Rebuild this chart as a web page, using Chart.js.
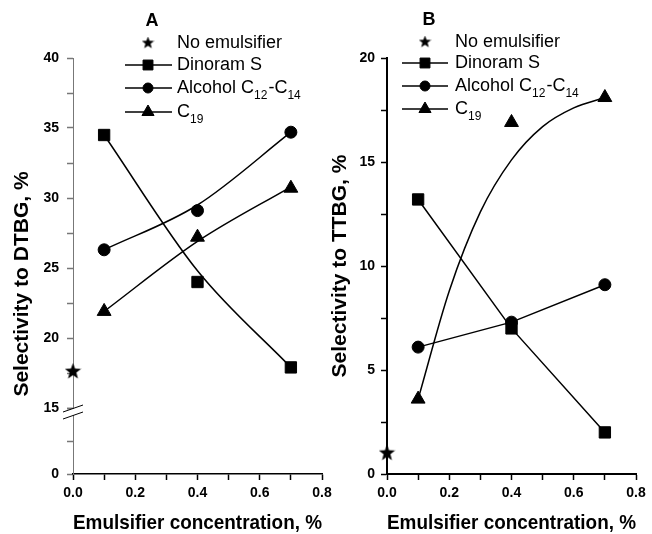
<!DOCTYPE html>
<html>
<head>
<meta charset="utf-8">
<script src="https://cdn.jsdelivr.net/npm/chart.js@4.4.1/dist/chart.umd.min.js"></script>
<style>
  html, body { margin: 0; padding: 0; background: #fff; }
  #wrap { position: relative; width: 652px; height: 534px; overflow: hidden; }
  canvas { position: absolute; top: 0; }
  #chartA { left: 0; }
  #chartB { left: 326px; }
</style>
</head>
<body>
<div id="wrap">
  <canvas id="chartA" width="340" height="534"></canvas>
  <canvas id="chartB" width="326" height="534"></canvas>
</div>
<script>
// emulsifier concentration, %
var concentration = [0.1, 0.4, 0.7];
var fitConcB = [0.1, 0.2, 0.3, 0.4, 0.5, 0.6, 0.7];

// A: selectivity to DTBG, %
var noEmulsifierA = [17.6];
var dinoramA = [34.5, 24.0, 17.9];
var alcoholA = [26.3, 29.1, 34.7];
var c19A = [21.9, 27.2, 30.7];
var dinoramFitA = [34.5, 24.8, 17.9];
var alcoholFitA = [26.3, 29.5, 34.7];
var c19FitA = [21.9, 26.9, 30.8];

// B: selectivity to TTBG, %
var noEmulsifierB = [1.0];
var dinoramB = [13.2, 7.0, 2.0];
var alcoholB = [6.1, 7.3, 9.1];
var c19B = [3.6, 16.9, 18.1];
var c19FitB = [3.6, 8.8, 12.6, 15.1, 16.7, 17.6, 18.1];

var legendLabels = ['No emulsifier', 'Dinoram S', 'Alcohol C_{12}-C_{14}', 'C_{19}'];

var FONT = '"Liberation Sans", Arial, sans-serif';

function starCanvas(size) {
    var c = document.createElement('canvas');
    c.width = size; c.height = size;
    var g = c.getContext('2d');
    var R = size / 2, r = R * 0.42;
    g.beginPath();
    for (var i = 0; i < 10; i++) {
        var a = -Math.PI / 2 + i * Math.PI / 5;
        var rr = i % 2 === 0 ? R : r;
        g.lineTo(R + rr * Math.cos(a), R + rr * Math.sin(a));
    }
    g.closePath();
    g.fillStyle = '#000';
    g.fill();
    return c;
}
var starBig = starCanvas(17);
var starSmall = starCanvas(13);

function pts(xs, ys) {
    return ys.map(function (y, i) { return { x: xs[i], y: y }; });
}

function markers(label, xs, ys, style, r, axis, withLine) {
    return {
        label: label,
        data: pts(xs, ys),
        yAxisID: axis,
        showLine: !!withLine,
        pointStyle: style,
        pointRadius: r,
        pointHoverRadius: r,
        pointBackgroundColor: '#000',
        pointBorderColor: '#000',
        pointBorderWidth: 1,
        borderColor: '#000',
        borderWidth: 1.5,
        tension: 0,
        clip: false
    };
}

function fitLine(xs, ys, axis) {
    return {
        data: pts(xs, ys),
        yAxisID: axis,
        showLine: true,
        pointRadius: 0,
        borderColor: '#000',
        borderWidth: 1.5,
        cubicInterpolationMode: 'monotone',
        fill: false,
        clip: false
    };
}

function xTickLabel(v) {
    var k = Math.round(v * 10);
    return k % 2 === 0 ? (k / 10).toFixed(1) : '';
}

function drawRich(ctx, text, x, y) {
    var parts = text.split(/_\{|\}/);
    parts.forEach(function (p, i) {
        if (!p) return;
        var sub = i % 2 === 1;
        ctx.font = (sub ? '12px ' : '18px ') + FONT;
        ctx.fillText(p, x, sub ? y + 8 : y);
        x += ctx.measureText(p).width + (sub ? 1 : 0);
    });
}

function legendPlugin(cfg) {
    return {
        id: 'panelLegend',
        afterDraw: function (chart) {
            var ctx = chart.ctx;
            var draw = Chart.helpers.drawPoint;
            ctx.save();
            ctx.fillStyle = '#000';
            ctx.strokeStyle = '#000';
            ctx.textBaseline = 'middle';
            ctx.textAlign = 'center';
            ctx.font = 'bold 18px ' + FONT;
            ctx.fillText(cfg.letter, cfg.letterX, cfg.letterY);
            if (cfg.yTitle) {
                // y title of the broken axis, centred lower than the upper segment
                ctx.save();
                ctx.translate(cfg.yTitle.x, cfg.yTitle.y);
                ctx.rotate(-Math.PI / 2);
                ctx.font = 'bold 21px ' + FONT;
                ctx.fillText(cfg.yTitle.text, 0, 0);
                ctx.restore();
            }
            ctx.textAlign = 'left';
            var styles = [starSmall, 'rect', 'circle', 'triangle'];
            var radii = [0, 7, 5, 7];
            legendLabels.forEach(function (lab, i) {
                var y = cfg.rows[i];
                if (i > 0) {
                    ctx.lineWidth = 1.5;
                    ctx.beginPath();
                    ctx.moveTo(cfg.lineX0, y);
                    ctx.lineTo(cfg.lineX1, y);
                    ctx.stroke();
                }
                ctx.lineWidth = 1;
                draw(ctx, { pointStyle: styles[i], radius: radii[i], rotation: 0, borderWidth: 1 }, cfg.markX, y);
                ctx.fillStyle = '#000';
                drawRich(ctx, lab, cfg.textX, y);
            });
            if (cfg.breakAxis) {
                var yb = chart.scales.y.bottom;
                var xa = chart.scales.y.right;
                ctx.fillStyle = '#fff';
                ctx.fillRect(xa - 2, yb + 1, 4, 6);
                ctx.strokeStyle = '#000';
                ctx.lineWidth = 1;
                [yb, yb + 7].forEach(function (yy) {
                    ctx.beginPath();
                    ctx.moveTo(xa - 10, yy + 4);
                    ctx.lineTo(xa + 10, yy - 3);
                    ctx.stroke();
                });
            }
            ctx.restore();
        }
    };
}

function axisX(borderColor, borderWidth) {
    return {
        type: 'linear', min: 0, max: 0.8,
        ticks: { stepSize: 0.1, autoSkip: false, maxRotation: 0, callback: xTickLabel,
                 color: '#000', padding: 5, font: { family: FONT, size: 14, weight: 'bold' } },
        grid: { drawOnChartArea: false, tickLength: 6, color: '#000', tickWidth: 1.5 },
        border: { color: borderColor, width: borderWidth },
        title: { display: true, text: 'Emulsifier concentration, %', color: '#000', padding: 0,
                 font: { family: FONT, size: 21, weight: 'bold', lineHeight: 1 } },
        afterFit: function (s) { s.height = 60; }
    };
}

function axisY(opts) {
    var a = {
        type: 'linear', position: 'left', min: opts.min, max: opts.max,
        ticks: { stepSize: opts.step, autoSkip: false, callback: opts.label,
                 color: '#000', padding: opts.pad, font: { family: FONT, size: 14, weight: 'bold' } },
        grid: { drawOnChartArea: false, tickLength: 6, color: opts.color, tickWidth: 1.5 },
        border: { color: opts.color, width: opts.width },
        afterFit: function (s) { s.width = opts.boxWidth; }
    };
    if (opts.title) {
        a.title = { display: true, text: opts.title, color: '#000', padding: { top: opts.titlePad },
                    font: { family: FONT, size: 21, weight: 'bold', lineHeight: 1 } };
    }
    if (opts.stack) {
        a.stack = opts.stack;
        a.stackWeight = opts.weight;
    }
    return a;
}

var common = {
    responsive: false,
    animation: false,
    events: [],
    plugins: { legend: { display: false }, tooltip: { enabled: false } }
};

new Chart(document.getElementById('chartA').getContext('2d'), {
    type: 'scatter',
    data: {
        datasets: [
            markers('No emulsifier', [0], noEmulsifierA, starBig, 8, 'y'),
            markers('Dinoram S', concentration, dinoramA, 'rect', 8, 'y'),
            markers('Alcohol C12-C14', concentration, alcoholA, 'circle', 6, 'y'),
            markers('C19', concentration, c19A, 'triangle', 8, 'y'),
            fitLine(concentration, dinoramFitA, 'y'),
            fitLine(concentration, alcoholFitA, 'y'),
            fitLine(concentration, c19FitA, 'y')
        ]
    },
    options: Object.assign({}, common, {
        layout: { padding: { top: 58, right: 18, left: 0, bottom: 0 } },
        scales: {
            x: axisX('#000', 1.5),
            y0: axisY({ min: 0, max: 10, step: 5, pad: 8, color: '#777', width: 1, boxWidth: 73,
                        label: function (v) { return v === 0 ? '0' : ''; }, stack: 'a', weight: 66 }),
            y: axisY({ min: 15, max: 40, step: 2.5, pad: 8, color: '#777', width: 1, boxWidth: 73,
                       label: function (v) { return v % 5 === 0 ? String(v) : ''; },
                       stack: 'a', weight: 350 })
        }
    }),
    plugins: [legendPlugin({ letter: 'A', letterX: 152, letterY: 21, rows: [43, 65, 88, 112],
                             lineX0: 125, lineX1: 172, markX: 148, textX: 177, breakAxis: true,
                             yTitle: { text: 'Selectivity to DTBG, %', x: 22, y: 284 } })]
});

new Chart(document.getElementById('chartB').getContext('2d'), {
    type: 'scatter',
    data: {
        datasets: [
            markers('No emulsifier', [0], noEmulsifierB, starBig, 8, 'y'),
            markers('Dinoram S', concentration, dinoramB, 'rect', 8, 'y', true),
            markers('Alcohol C12-C14', concentration, alcoholB, 'circle', 6, 'y', true),
            markers('C19', concentration, c19B, 'triangle', 8, 'y'),
            fitLine(fitConcB, c19FitB, 'y')
        ]
    },
    options: Object.assign({}, common, {
        layout: { padding: { top: 58, right: 16, left: 0, bottom: 0 } },
        scales: {
            x: axisX('#000', 2),
            y: axisY({ min: 0, max: 20, step: 2.5, pad: 6, color: '#000', width: 2, boxWidth: 61,
                       label: function (v) { return v % 5 === 0 ? String(v) : ''; },
                       title: 'Selectivity to TTBG, %', titlePad: 4 })
        }
    }),
    plugins: [legendPlugin({ letter: 'B', letterX: 103, letterY: 20, rows: [42, 63, 86, 109],
                             lineX0: 76, lineX1: 122, markX: 99, textX: 129 })]
});
</script>
</body>
</html>
